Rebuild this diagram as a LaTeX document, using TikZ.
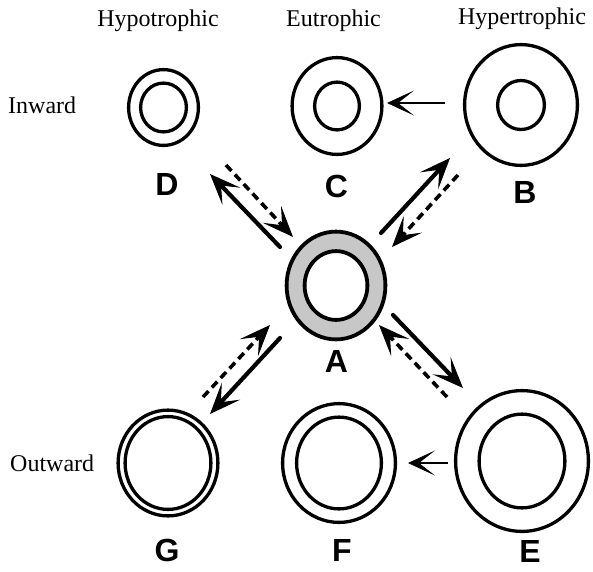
\documentclass[tikz,border=0pt]{standalone}
\usepackage{fontspec}
\setmainfont{Liberation Serif}
\newfontfamily\lettersf{Liberation Sans}
\usetikzlibrary{shapes.geometric,arrows.meta}
\tikzset{
  ring/.style={ellipse, draw, line width=3.3pt, inner sep=0pt, outer sep=0pt},
  heading/.style={font=\fontsize{24}{28}\selectfont, anchor=base, inner sep=0pt},
  rowname/.style={font=\fontsize{24}{28}\selectfont, anchor=base west, inner sep=0pt},
  letter/.style={font=\lettersf\bfseries\fontsize{32}{36}\selectfont, inner sep=0pt},
  bighead/.style={-{Stealth[length=31pt, width=25pt, inset=15pt, line width=1pt]}},
  solidarrow/.style={bighead, line width=4.2pt, line cap=round},
  dasharrow/.style={bighead, line width=3.6pt, dash pattern=on 8pt off 5pt},
  thinarrow/.style={-{Stealth[length=27pt, width=25pt, inset=16pt, line width=0.8pt]}, line width=2.4pt}
}
\begin{document}
\begin{tikzpicture}[x=1pt, y=-1pt]
\useasboundingbox (0,0) rectangle (593,571);

% column and row headings
\node[heading] (hypo)  at (158,26) {Hypotrophic};
\node[heading] (eu)    at (333.5,26) {Eutrophic};
\node[heading] (hyper) at (522,24) {Hypertrophic};
\node[rowname] (inw)   at (8,113) {Inward};
\node[rowname] (outw)  at (10,471) {Outward};

% top row
\node[ring, minimum width=69.8pt, minimum height=75.8pt] (D) at (163.5,107.5) {};
\node[ring, minimum width=45.8pt, minimum height=48.8pt] (Di) at (D.center) {};
\node[ring, minimum width=89.8pt, minimum height=96.8pt] (C) at (337,106) {};
\node[ring, minimum width=44.8pt, minimum height=47.8pt] (Ci) at (C.center) {};
\node[ring, minimum width=112.8pt, minimum height=120.8pt] (B) at (521,105) {};
\node[ring, minimum width=46.8pt, minimum height=49pt] (Bi) at (B.center) {};

% centre vessel with shaded wall
\node[ring, fill=black!22, line width=3.8pt, minimum width=98.8pt, minimum height=107.8pt] (A) at (336,285.5) {};
\node[ring, fill=white, line width=3.8pt, minimum width=62.8pt, minimum height=68.8pt] (Ai) at (A.center) {};

% bottom row
\node[ring, minimum width=99.8pt, minimum height=105.8pt] (G) at (168,463) {};
\node[ring, minimum width=85.8pt, minimum height=92.8pt] (Gi) at (G.center) {};
\node[ring, minimum width=112.8pt, minimum height=118.8pt] (F) at (339,463) {};
\node[ring, minimum width=84.8pt, minimum height=91.8pt] (Fi) at (F.center) {};
\node[ring, minimum width=132.8pt, minimum height=140.8pt] (E) at (522,461) {};
\node[ring, minimum width=85.8pt, minimum height=93.8pt] (Ei) at (E.center) {};

% letters
\node[letter] (lD) at (167,184) {D};
\node[letter] (lC) at (336.5,186) {C};
\node[letter] (lB) at (525,192) {B};
\node[letter] (lA) at (336.5,361) {A};
\node[letter] (lG) at (167,550) {G};
\node[letter] (lF) at (342,550) {F};
\node[letter] (lE) at (530,551) {E};

% arrow end points
\coordinate (daS1) at (280,247); \coordinate (daS2) at (210,174);
\coordinate (daD1) at (226,165); \coordinate (daD2) at (293,237);
\coordinate (abS1) at (381,233); \coordinate (abS2) at (450,158);
\coordinate (abD1) at (458,175); \coordinate (abD2) at (392,247);
\coordinate (agD1) at (203,397); \coordinate (agD2) at (270,325);
\coordinate (agS1) at (280,338); \coordinate (agS2) at (210,414);
\coordinate (aeS1) at (393,315); \coordinate (aeS2) at (463,388);
\coordinate (aeD1) at (447,397); \coordinate (aeD2) at (379,325);
\coordinate (bc1) at (445,103); \coordinate (bc2) at (387,103);
\coordinate (ef1) at (448,463); \coordinate (ef2) at (408,463);

% remodelling transitions
\draw[solidarrow] (daS1) -- (daS2);
\draw[dasharrow]  (daD1) -- (daD2);
\draw[solidarrow] (abS1) -- (abS2);
\draw[dasharrow]  (abD1) -- (abD2);
\draw[dasharrow]  (agD1) -- (agD2);
\draw[solidarrow] (agS1) -- (agS2);
\draw[solidarrow] (aeS1) -- (aeS2);
\draw[dasharrow]  (aeD1) -- (aeD2);
\draw[thinarrow]  (bc1) -- (bc2);
\draw[thinarrow]  (ef1) -- (ef2);
\end{tikzpicture}
\end{document}
